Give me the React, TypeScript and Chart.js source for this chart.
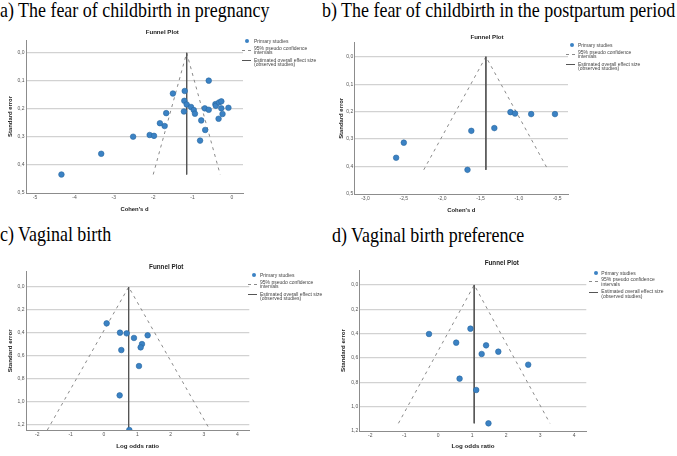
import React, { useEffect, useRef } from 'react';
import { Chart, registerables } from 'chart.js';

Chart.register(...registerables);

// ---------- Panel a: fear of childbirth in pregnancy (Cohen's d) ----------
const aStudyD = [-4.33, -3.32, -2.51, -2.09, -1.98, -1.83, -1.71, -1.67, -1.5, -1.2, -1.21, -1.15, -1.22, -1.04, -0.97, -0.94, -0.59, -0.69, -0.59, -0.78, -0.68, -0.81, -0.42, -0.41, -0.33, -0.27, -0.27, -0.34, -0.24, -0.09];
const aStudySE = [0.434, 0.36, 0.299, 0.293, 0.296, 0.251, 0.261, 0.215, 0.145, 0.136, 0.171, 0.184, 0.209, 0.193, 0.204, 0.217, 0.099, 0.198, 0.203, 0.241, 0.275, 0.313, 0.183, 0.189, 0.177, 0.173, 0.198, 0.235, 0.218, 0.196];
const aEffect = -1.15;
const aSeMax = 0.434;
const aFunnelLeft = -2.0;
const aFunnelRight = -0.3;
const aXTicks = [-5, -4, -3, -2, -1, 0];
const aYTicks = [0, 0.1, 0.2, 0.3, 0.4, 0.5];

// ---------- Panel b: fear of childbirth in the postpartum period ----------
const bStudyD = [-2.6, -2.5, -1.62, -1.67, -1.32, -1.11, -1.05, -0.84, -0.53];
const bStudySE = [0.368, 0.313, 0.27, 0.412, 0.26, 0.202, 0.207, 0.209, 0.209];
const bEffect = -1.43;
const bSeMax = 0.412;
const bFunnelLeft = -2.24;
const bFunnelRight = -0.62;
const bXTicks = [-3, -2.5, -2, -1.5, -1, -0.5];
const bYTicks = [0, 0.1, 0.2, 0.3, 0.4, 0.5];

// ---------- Panel c: vaginal birth (log odds ratio) ----------
const cStudyLOR = [0.08, 0.48, 0.68, 0.9, 1.31, 1.14, 1.1, 0.52, 1.05, 0.47, 0.76];
const cStudySE = [0.316, 0.397, 0.403, 0.443, 0.42, 0.496, 0.525, 0.548, 0.687, 0.942, 1.243];
const cEffect = 0.74;
const cSeMax = 1.243;
const cFunnelLeft = -1.7;
const cFunnelRight = 3.18;
const cXTicks = [-2, -1, 0, 1, 2, 3, 4];
const cYTicks = [0, 0.2, 0.4, 0.6, 0.8, 1.0, 1.2];

// ---------- Panel d: vaginal birth preference (log odds ratio) ----------
const dStudyLOR = [-0.27, 0.95, 0.53, 1.41, 1.28, 1.77, 2.65, 0.63, 1.12, 1.48];
const dStudySE = [0.403, 0.359, 0.474, 0.496, 0.567, 0.548, 0.655, 0.77, 0.863, 1.137];
const dEffect = 1.06;
const dSeMax = 1.137;
const dFunnelLeft = -1.17;
const dFunnelRight = 3.29;
const dXTicks = [-2, -1, 0, 1, 2, 3, 4];
const dYTicks = [0, 0.2, 0.4, 0.6, 0.8, 1.0, 1.2];

const panelTitles = [
  'a) The fear of childbirth in pregnancy',
  'b) The fear of childbirth in the postpartum period',
  'c) Vaginal birth',
  'd) Vaginal birth preference',
];
const legendLabels = ['Primary studies', '95% pseudo confidence', 'intervals', 'Estimated overall effect size', '(observed studies)'];
const plotTitle = 'Funnel Plot';
const yAxisTitle = 'Standard error';

const SANS = "'Liberation Sans', Arial, Helvetica, sans-serif";
const SERIF = "'Liberation Serif', 'Times New Roman', serif";

const fmt = (v: number, dec: number) => (dec ? v.toFixed(dec).replace('.', ',') : String(Math.round(v)));

interface PanelCfg {
  left: number; top: number; width: number; height: number;
  area: { left: number; top: number; right: number; bottom: number };
  xMin: number; xMax: number; yMin: number; yMax: number;
  xTicks: number[]; yTicks: number[]; xDec: number; yDec: number;
  xTitle: string; titleSize: number; yPad: number; xPad: number;
  xs: number[]; ys: number[]; effect: number; seMax: number; fl: number; fr: number;
}

const panels: PanelCfg[] = [
  {
    left: 0, top: 25, width: 338, height: 195,
    area: { left: 26, top: 15, right: 243, bottom: 168 },
    xMin: -5.23, xMax: 0.28, yMin: -0.046, yMax: 0.5,
    xTicks: aXTicks, yTicks: aYTicks, xDec: 0, yDec: 1,
    xTitle: "Cohen's d", titleSize: 5.9, yPad: 6.5, xPad: 7.2,
    xs: aStudyD, ys: aStudySE, effect: aEffect, seMax: aSeMax, fl: aFunnelLeft, fr: aFunnelRight,
  },
  {
    left: 338, top: 25, width: 339, height: 195,
    area: { left: 16.7, top: 17.7, right: 230, bottom: 169 },
    xMin: -3.14, xMax: -0.36, yMin: -0.051, yMax: 0.5,
    xTicks: bXTicks, yTicks: bYTicks, xDec: 1, yDec: 1,
    xTitle: "Cohen's d", titleSize: 5.9, yPad: 0, xPad: 6.5,
    xs: bStudyD, ys: bStudySE, effect: bEffect, seMax: bSeMax, fl: bFunnelLeft, fr: bFunnelRight,
  },
  {
    left: 0, top: 250, width: 338, height: 206,
    area: { left: 26, top: 21.7, right: 249.3, bottom: 180 },
    xMin: -2.34, xMax: 4.36, yMin: -0.133, yMax: 1.243,
    xTicks: cXTicks, yTicks: cYTicks, xDec: 0, yDec: 1,
    xTitle: 'Log odds ratio', titleSize: 6.2, yPad: 6.3, xPad: 5.6,
    xs: cStudyLOR, ys: cStudySE, effect: cEffect, seMax: cSeMax, fl: cFunnelLeft, fr: cFunnelRight,
  },
  {
    left: 338, top: 250, width: 339, height: 206,
    area: { left: 21.7, top: 20, right: 248.3, bottom: 181 },
    xMin: -2.31, xMax: 4.36, yMin: -0.123, yMax: 1.2,
    xTicks: dXTicks, yTicks: dYTicks, xDec: 0, yDec: 1,
    xTitle: 'Log odds ratio', titleSize: 6.2, yPad: 1.8, xPad: 5.6,
    xs: dStudyLOR, ys: dStudySE, effect: dEffect, seMax: dSeMax, fl: dFunnelLeft, fr: dFunnelRight,
  },
];

function FunnelChart({ cfg }: { cfg: PanelCfg }) {
  const ref = useRef<HTMLCanvasElement | null>(null);
  useEffect(() => {
    if (!ref.current) return;
    const c = cfg;
    const chart = new Chart(ref.current, {
      type: 'scatter',
      data: {
        datasets: [
          {
            label: 'Primary studies',
            data: c.xs.map((x, i) => ({ x, y: c.ys[i] })),
            pointRadius: 2.8,
            pointBackgroundColor: '#3b82c4',
            pointBorderColor: '#26679f',
            pointBorderWidth: 0.6,
            order: 0,
          },
          {
            label: '95% pseudo confidence intervals',
            data: [
              { x: c.fl, y: c.seMax },
              { x: c.effect, y: 0 },
              { x: c.fr, y: c.seMax },
            ],
            showLine: true,
            pointRadius: 0,
            borderColor: '#8a8a8a',
            borderWidth: 1,
            borderDash: [3, 4],
            order: 2,
          },
          {
            label: 'Estimated overall effect size',
            data: [
              { x: c.effect, y: 0 },
              { x: c.effect, y: c.seMax },
            ],
            showLine: true,
            pointRadius: 0,
            borderColor: '#555555',
            borderWidth: 1,
            order: 1,
          },
        ],
      },
      options: {
        responsive: false,
        animation: false,
        layout: {
          autoPadding: false,
          padding: { left: 0, top: c.area.top, right: c.width - c.area.right, bottom: 0 },
        },
        plugins: {
          legend: { display: false },
          title: { display: false },
          tooltip: { enabled: false },
        },
        scales: {
          x: {
            type: 'linear',
            position: 'bottom',
            min: c.xMin,
            max: c.xMax,
            afterBuildTicks: (s: any) => { s.ticks = c.xTicks.map((v) => ({ value: v })); },
            afterFit: (s: any) => { s.height = c.height - c.area.bottom; },
            grid: { display: false, drawTicks: false },
            border: { display: true, color: '#8c8c8c', width: 1 },
            ticks: {
              font: { size: 5, family: SANS },
              color: '#555',
              padding: 2,
              maxRotation: 0,
              autoSkip: false,
              callback: (v: any) => fmt(Number(v), c.xDec),
            },
            title: {
              display: true,
              text: c.xTitle,
              color: '#222',
              font: { size: c.titleSize, weight: 'bold', family: SANS },
              padding: { top: 0, bottom: c.xPad },
            },
          },
          y: {
            type: 'linear',
            position: 'left',
            reverse: true,
            min: c.yMin,
            max: c.yMax,
            afterBuildTicks: (s: any) => { s.ticks = c.yTicks.map((v) => ({ value: v })); },
            afterFit: (s: any) => { s.width = c.area.left; },
            grid: {
              drawTicks: false,
              lineWidth: 1.2,
              color: (ctx: any) => (ctx.tick && ctx.tick.value < c.yMax - 1e-6 ? '#d2d2d2' : 'rgba(0,0,0,0)'),
            },
            border: { display: true, color: '#8c8c8c', width: 1 },
            ticks: {
              font: { size: 5, family: SANS },
              color: '#555',
              padding: 1.5,
              autoSkip: false,
              callback: (v: any) => fmt(Number(v), c.yDec),
            },
            title: {
              display: true,
              text: yAxisTitle,
              color: '#222',
              font: { size: c.titleSize, weight: 'bold', family: SANS },
              padding: { top: c.yPad, bottom: 0 },
            },
          },
        },
      } as any,
    });
    return () => chart.destroy();
  }, [cfg]);
  return (
    <canvas
      ref={ref}
      width={cfg.width}
      height={cfg.height}
      style={{ position: 'absolute', left: cfg.left, top: cfg.top, width: cfg.width, height: cfg.height }}
    />
  );
}

function Legend({ dotX, dotY, textX }: { dotX: number; dotY: number; textX: number }) {
  const txt = (y: number, s: string) => (
    <div
      style={{
        position: 'absolute', left: textX, top: y - 3, height: 6, lineHeight: '6px',
        fontSize: 5, fontFamily: SANS, color: '#444', whiteSpace: 'nowrap',
      }}
    >
      {s}
    </div>
  );
  return (
    <>
      <div
        style={{
          position: 'absolute', left: dotX - 2.2, top: dotY - 2.2, width: 4.4, height: 4.4,
          borderRadius: '50%', background: '#3b82c4',
        }}
      />
      {txt(dotY, legendLabels[0])}
      <div
        style={{
          position: 'absolute', left: textX - 12, top: dotY + 8.6, width: 9, height: 0,
          borderTop: '1px dashed #8a8a8a',
        }}
      />
      {txt(dotY + 6.5, legendLabels[1])}
      {txt(dotY + 11, legendLabels[2])}
      <div
        style={{
          position: 'absolute', left: textX - 12, top: dotY + 19, width: 9, height: 0,
          borderTop: '1px solid #555',
        }}
      />
      {txt(dotY + 18.5, legendLabels[3])}
      {txt(dotY + 23.3, legendLabels[4])}
    </>
  );
}

function PlotTitle({ cx, cy, size }: { cx: number; cy: number; size: number }) {
  return (
    <div
      style={{
        position: 'absolute', left: cx - 40, top: cy - 4, width: 80, height: 8, lineHeight: '8px',
        textAlign: 'center', fontSize: size, fontWeight: 'bold', fontFamily: SANS, color: '#222',
      }}
    >
      {plotTitle}
    </div>
  );
}

function PanelTitle({ x, top, text }: { x: number; top: number; text: string }) {
  return (
    <div
      style={{
        position: 'absolute', left: x, top, fontFamily: SERIF, fontSize: 22, lineHeight: '22px',
        color: '#000', whiteSpace: 'nowrap', transform: 'scaleX(0.815)', transformOrigin: 'left top',
      }}
    >
      {text}
    </div>
  );
}

export default function App() {
  return (
    <div
      style={{
        position: 'absolute', left: 0, top: 0, width: 677, height: 456,
        background: '#fff', overflow: 'hidden',
      }}
    >
      {panels.map((p, i) => (
        <FunnelChart key={i} cfg={p} />
      ))}
      <PanelTitle x={0} top={-1.4} text={panelTitles[0]} />
      <PanelTitle x={322} top={-1.1} text={panelTitles[1]} />
      <PanelTitle x={0} top={223.4} text={panelTitles[2]} />
      <PanelTitle x={331.5} top={223.8} text={panelTitles[3]} />
      <PlotTitle cx={162.3} cy={32.3} size={6.1} />
      <PlotTitle cx={487} cy={37} size={6.1} />
      <PlotTitle cx={166.2} cy={266.7} size={6.3} />
      <PlotTitle cx={501.8} cy={263.3} size={6.3} />
      <Legend dotX={247.3} dotY={41} textX={254} />
      <Legend dotX={572.3} dotY={45} textX={578} />
      <Legend dotX={254.3} dotY={275} textX={260} />
      <Legend dotX={595.7} dotY={272.7} textX={601.3} />
    </div>
  );
}
